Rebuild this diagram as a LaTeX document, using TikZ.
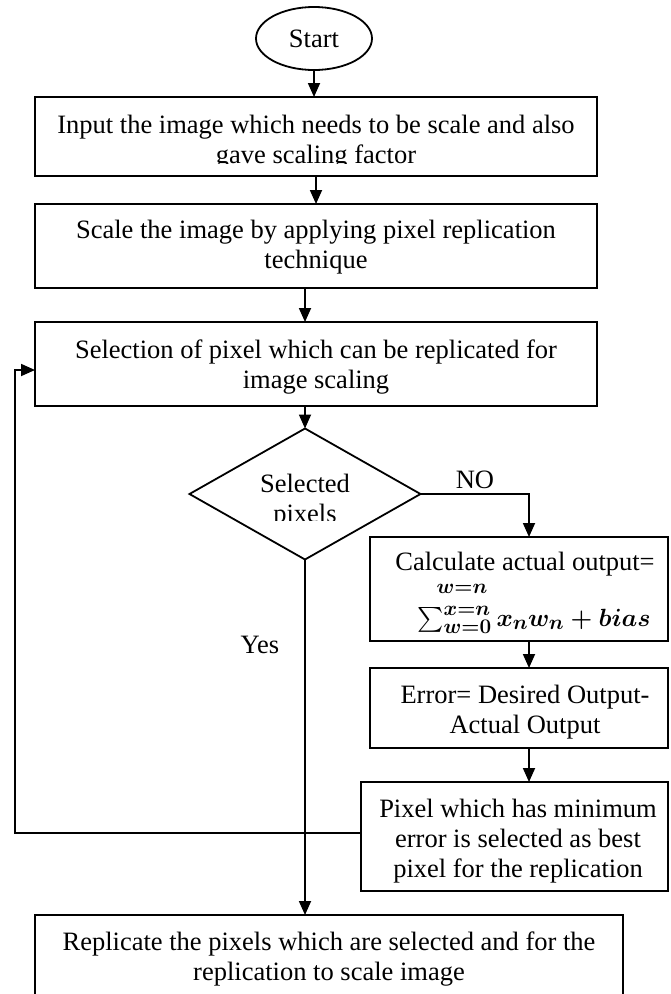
\documentclass[tikz,border=0pt]{standalone}
\usepackage{amsmath}
\usepackage{fontspec}
\setmainfont{Liberation Serif}
\usetikzlibrary{shapes.geometric,arrows.meta}

\tikzset{
  every node/.style={inner sep=0pt, outer sep=0pt, font=\fontsize{26.5}{30}\selectfont},
  procbox/.style 2 args={draw, line width=1.8pt, rectangle, minimum width=#1, minimum height=#2},
  decision/.style 2 args={draw, line width=1.8pt, diamond, minimum width=#1, minimum height=#2},
  terminal/.style 2 args={draw, line width=1.8pt, ellipse, minimum width=#1, minimum height=#2},
  boxtext/.style={anchor=north, align=center},
  mathtext/.style={anchor=base, font=\fontsize{29}{30}\selectfont},
  flow/.style={line width=1.8pt, -{Triangle[width=12pt,length=14pt]}}
}

\begin{document}
\begin{tikzpicture}[x=1pt, y=-1pt]
  \useasboundingbox (0,0) rectangle (670,994);

  % shapes
  \node[terminal={116pt}{63pt}] (start) at (314,38.5) {Start};
  \node[procbox={562pt}{79pt}] (b1) at (316,136.5) {};
  \node[procbox={562pt}{84pt}] (b2) at (316,246) {};
  \node[procbox={562pt}{84pt}] (b3) at (316,364) {};
  \node[decision={231pt}{131pt}] (dia) at (305,494) {};
  \node[procbox={298pt}{104pt}] (calc) at (519,589) {};
  \node[procbox={298pt}{80pt}] (err) at (519,708) {};
  \node[procbox={307pt}{109pt}] (pix) at (514.5,836.5) {};
  \node[procbox={588pt}{100pt}] (rep) at (329,965) {};

  % box texts
  \begin{scope}
    \clip (35,97) rectangle (597,163);
    \node[boxtext] (t1) at (316,114.7) {Input the image which needs to be scale and also\\gave scaling factor};
  \end{scope}
  \node[boxtext] (t2) at (316,219.7) {Scale the image by applying pixel replication\\technique};
  \node[boxtext] (t3) at (316,339.7) {Selection of pixel which can be replicated for\\image scaling};
  \begin{scope}
    \clip (189,420) rectangle (421,520);
    \node[boxtext] (td) at (305,473.7) {Selected\\pixels};
  \end{scope}
  \node[anchor=base] (tc) at (525,570) {Calculate actual output=};
  \node[mathtext] (tf) at (534,626)
    {$\boldsymbol{\sum\nolimits_{w=0}^{x=n} x_n w_n + bias}$};
  \node[mathtext] (tw) at (462,593) {$\boldsymbol{\scriptstyle w=n}$};
  \node[boxtext] (te) at (525,684.7) {Error= Desired Output-\\Actual Output};
  \node[boxtext] (tp) at (518,798.7) {Pixel which has minimum\\error is selected as best\\pixel for the replication};
  \node[boxtext] (tr) at (329,931.7) {Replicate the pixels which are selected and for the\\replication to scale image};

  % branch labels
  \node[anchor=base] (yes) at (260,653) {Yes};
  \node[anchor=base] (no) at (475,488) {NO};

  % connectors
  \draw[flow] (start.south) -- (start.south |- b1.north);
  \draw[flow] (b1.south) -- (b2.north);
  \draw[flow] ([xshift=-11pt]b2.south) -- ([xshift=-11pt]b3.north);
  \draw[flow] ([xshift=-11pt]b3.south) -- (dia.north);
  \draw[flow] (dia.east) -| ([xshift=10pt]calc.north);
  \draw[flow] ([xshift=10pt]calc.south) -- ([xshift=10pt]err.north);
  \draw[flow] ([xshift=10pt]err.south) -- ([xshift=10pt]err.south |- pix.north);
  \draw[flow] (dia.south) -- (dia.south |- rep.north);

  % feedback loop into the selection step
  \coordinate (lpA) at (15,833);
  \coordinate (lpB) at (15,370);
  \draw[flow] (pix.west |- lpA) -- (lpA) -- (lpB) -- (b3.west |- lpB);
\end{tikzpicture}
\end{document}
